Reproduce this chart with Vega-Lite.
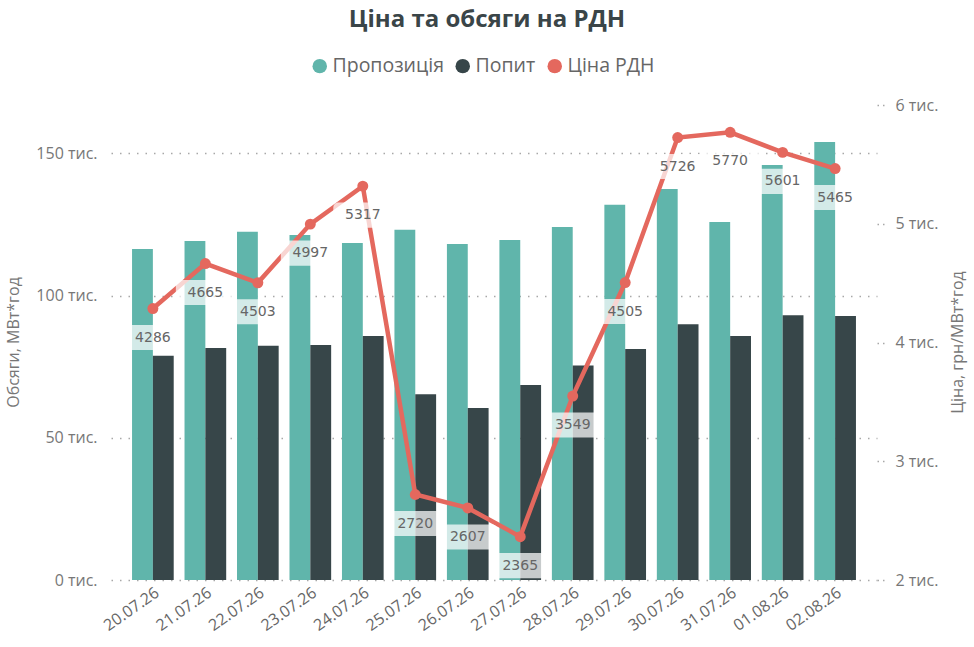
{
  "$schema": "https://vega.github.io/schema/vega-lite/v6.json",
  "autosize": {"type": "none"},
  "padding": {"left": 111, "top": 105, "right": 97, "bottom": 67},
  "width": 766,
  "height": 475,
  "background": "white",
  "title": {
    "text": "Ціна та обсяги на РДН",
    "anchor": "middle",
    "font": "Open Sans",
    "fontSize": 24,
    "fontWeight": "bold",
    "color": "#3a4548",
    "offset": 24,
    "dx": -7
  },
  "config": {
    "view": {"stroke": null},
    "axis": {
      "labelFont": "Open Sans",
      "titleFont": "Open Sans",
      "labelColor": "#777777",
      "titleColor": "#777777",
      "labelFontSize": 16,
      "titleFontSize": 16,
      "titleFontWeight": "normal",
      "domain": false
    }
  },
  "datasets": {
    "volumes": [
      {"date": "20.07.26", "series": "Пропозиція", "value": 116400},
      {"date": "20.07.26", "series": "Попит", "value": 78800},
      {"date": "21.07.26", "series": "Пропозиція", "value": 119200},
      {"date": "21.07.26", "series": "Попит", "value": 81600},
      {"date": "22.07.26", "series": "Пропозиція", "value": 122400},
      {"date": "22.07.26", "series": "Попит", "value": 82400},
      {"date": "23.07.26", "series": "Пропозиція", "value": 121300},
      {"date": "23.07.26", "series": "Попит", "value": 82600},
      {"date": "24.07.26", "series": "Пропозиція", "value": 118500},
      {"date": "24.07.26", "series": "Попит", "value": 85800},
      {"date": "25.07.26", "series": "Пропозиція", "value": 123100},
      {"date": "25.07.26", "series": "Попит", "value": 65300},
      {"date": "26.07.26", "series": "Пропозиція", "value": 118100},
      {"date": "26.07.26", "series": "Попит", "value": 60500},
      {"date": "27.07.26", "series": "Пропозиція", "value": 119500},
      {"date": "27.07.26", "series": "Попит", "value": 68600},
      {"date": "28.07.26", "series": "Пропозиція", "value": 124100},
      {"date": "28.07.26", "series": "Попит", "value": 75400},
      {"date": "29.07.26", "series": "Пропозиція", "value": 131900},
      {"date": "29.07.26", "series": "Попит", "value": 81200},
      {"date": "30.07.26", "series": "Пропозиція", "value": 137500},
      {"date": "30.07.26", "series": "Попит", "value": 89900},
      {"date": "31.07.26", "series": "Пропозиція", "value": 125900},
      {"date": "31.07.26", "series": "Попит", "value": 85800},
      {"date": "01.08.26", "series": "Пропозиція", "value": 145900},
      {"date": "01.08.26", "series": "Попит", "value": 93100},
      {"date": "02.08.26", "series": "Пропозиція", "value": 154000},
      {"date": "02.08.26", "series": "Попит", "value": 92800}
    ],
    "prices": [
      {"date": "20.07.26", "price": 4286},
      {"date": "21.07.26", "price": 4665},
      {"date": "22.07.26", "price": 4503},
      {"date": "23.07.26", "price": 4997},
      {"date": "24.07.26", "price": 5317},
      {"date": "25.07.26", "price": 2720},
      {"date": "26.07.26", "price": 2607},
      {"date": "27.07.26", "price": 2365},
      {"date": "28.07.26", "price": 3549},
      {"date": "29.07.26", "price": 4505},
      {"date": "30.07.26", "price": 5726},
      {"date": "31.07.26", "price": 5770},
      {"date": "01.08.26", "price": 5601},
      {"date": "02.08.26", "price": 5465}
    ]
  },
  "encoding": {
    "x": {
      "field": "date",
      "type": "nominal",
      "sort": null,
      "scale": {"paddingInner": 0.206, "paddingOuter": 0.401},
      "axis": {
        "title": null,
        "labelAngle": -35,
        "labelColor": "#666666",
        "labelFontSize": 16,
        "labelPadding": 4,
        "ticks": false
      }
    }
  },
  "layer": [
    {
      "data": {"name": "volumes"},
      "mark": {"type": "bar"},
      "encoding": {
        "xOffset": {"field": "series", "type": "nominal", "sort": ["Пропозиція", "Попит"]},
        "y": {
          "field": "value",
          "type": "quantitative",
          "scale": {"domain": [0, 167000], "nice": false},
          "axis": {
            "title": "Обсяги, МВт*год",
            "values": [0, 50000, 100000, 150000],
            "labelExpr": "format(datum.value / 1000, 'd') + ' тис.'",
            "labelPadding": 14,
            "ticks": false,
            "grid": true,
            "gridDash": [1.5, 7],
            "gridColor": "#a8a8a8",
            "gridWidth": 1.5,
            "titleX": -98,
            "titleY": 237,
            "titleAngle": -90,
            "titleBaseline": "middle"
          }
        },
        "color": {
          "field": "series",
          "type": "nominal",
          "scale": {
            "domain": ["Пропозиція", "Попит", "Ціна РДН"],
            "range": ["#60b5ab", "#374649", "#e4685e"]
          },
          "legend": {
            "title": null,
            "orient": "none",
            "direction": "horizontal",
            "legendX": 199,
            "legendY": -49,
            "padding": 0,
            "symbolType": "circle",
            "symbolSize": 210,
            "symbolStrokeWidth": 0,
            "symbolOpacity": 1,
            "labelFont": "Open Sans",
            "labelFontSize": 19.5,
            "labelColor": "#666666",
            "labelOffset": 3,
            "columnPadding": 9
          }
        }
      }
    },
    {
      "data": {"name": "prices"},
      "encoding": {
        "y": {
          "field": "price",
          "type": "quantitative",
          "scale": {"domain": [2000, 6000], "nice": false, "zero": false},
          "axis": {
            "orient": "right",
            "title": "Ціна, грн/МВт*год",
            "values": [2000, 3000, 4000, 5000, 6000],
            "labelExpr": "format(datum.value / 1000, 'd') + ' тис.'",
            "grid": false,
            "ticks": true,
            "tickSize": 10,
            "tickDash": [1.5, 4],
            "tickColor": "#a8a8a8",
            "tickWidth": 1.5,
            "labelPadding": 8,
            "titleX": 80,
            "titleY": 237,
            "titleAngle": -90,
            "titleBaseline": "middle"
          }
        }
      },
      "layer": [
        {
          "mark": {"type": "line", "strokeWidth": 4.5},
          "encoding": {"color": {"datum": "Ціна РДН"}}
        },
        {
          "mark": {
            "type": "point",
            "shape": "M-0.83,-0.425 L0.83,-0.425 A0.17,0.17 0 0 1 1,-0.255 L1,0.255 A0.17,0.17 0 0 1 0.83,0.425 L-0.83,0.425 A0.17,0.17 0 0 1 -1,0.255 L-1,-0.255 A0.17,0.17 0 0 1 -0.83,-0.425 Z",
            "size": 3481,
            "filled": true,
            "fill": "white",
            "fillOpacity": 0.72,
            "strokeWidth": 0,
            "yOffset": 29
          }
        },
        {
          "mark": {
            "type": "text",
            "font": "DejaVu Sans",
            "fontSize": 14,
            "color": "#666666",
            "baseline": "middle",
            "yOffset": 29
          },
          "encoding": {"text": {"field": "price", "type": "quantitative", "format": "d"}}
        },
        {
          "mark": {"type": "point", "filled": true, "size": 120, "opacity": 1},
          "encoding": {"color": {"datum": "Ціна РДН"}}
        }
      ]
    }
  ],
  "resolve": {"scale": {"y": "independent"}}
}
